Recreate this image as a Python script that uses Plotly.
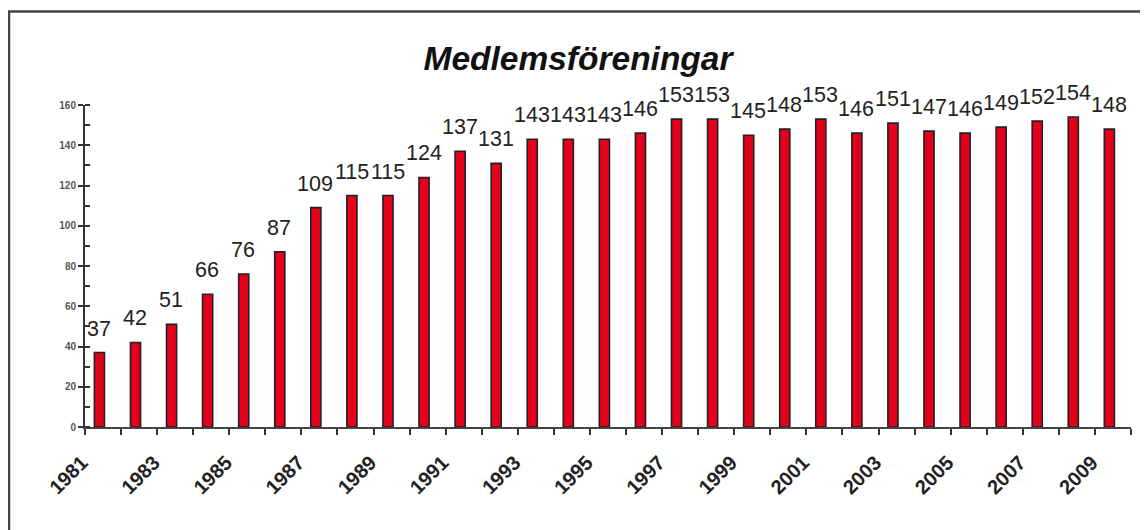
import plotly.graph_objects as go

years = [str(y) for y in range(1981, 2010)]
values = [37, 42, 51, 66, 76, 87, 109, 115, 115, 124, 137, 131, 143, 143, 143,
          146, 153, 153, 145, 148, 153, 146, 151, 147, 146, 149, 152, 154, 148]
tick_text = [y if int(y) % 2 == 1 else "" for y in years]
title_text = "Medlemsföreningar"

FONT = "Arial, 'Liberation Sans', sans-serif"

# the page body has an 8px margin; figure is sized to fit the window
W, H = 1140, 522
L, R, T, B = 77, 17, 97, 103
PW = W - L - R
PH = H - T - B

fig = go.Figure()
fig.add_trace(go.Bar(
    x=years, y=values,
    width=0.28, offset=-0.24,
    marker=dict(color="#e3001b", line=dict(color="#222222", width=1.6)),
    hoverinfo="x+y",
))

annotations = []
for i, v in enumerate(values):
    annotations.append(dict(
        x=i, y=v, xref="x", yref="y", text=str(v), showarrow=False,
        yanchor="bottom", xanchor="center", yshift=10, xshift=-4,
        font=dict(family=FONT, size=21.5, color="#222222"),
    ))

fig.update_layout(
    width=W, height=H,
    margin=dict(l=L, r=R, t=T, b=B),
    paper_bgcolor="white", plot_bgcolor="white",
    showlegend=False,
    title=dict(
        text="<b><i>" + title_text + "</i></b>",
        x=0.5, xanchor="center", xref="container",
        y=1 - 50 / H, yanchor="middle", yref="container",
        font=dict(family=FONT, size=33.5, color="#111111"),
    ),
    annotations=annotations,
    shapes=[dict(
        type="rect", xref="paper", yref="paper",
        x0=(1 - L) / PW, x1=1.2, y0=-0.6, y1=(T + PH - 3.5) / PH,
        line=dict(color="#444444", width=2.5), fillcolor="rgba(0,0,0,0)",
        layer="below",
    )],
    xaxis=dict(
        type="category",
        tickmode="array", tickvals=years, ticktext=tick_text,
        tickson="boundaries",
        ticks="outside", ticklen=6, tickwidth=2, tickcolor="#333333",
        showline=True, linecolor="#444444", linewidth=2,
        tickangle=-45, ticklabelstandoff=14, ticklabelshift=-21,
        tickfont=dict(family=FONT, size=20, color="#222222", weight="bold"),
        showgrid=False, zeroline=False,
        range=[-0.5, 28.5],
    ),
    yaxis=dict(
        range=[0, 160], tickmode="linear", tick0=0, dtick=20,
        ticks="outside", ticklen=5, tickwidth=2, tickcolor="#333333",
        minor=dict(dtick=10, ticks="inside", ticklen=5, tickwidth=1.5, tickcolor="#333333", showgrid=False),
        showline=True, linecolor="#333333", linewidth=2,
        tickfont=dict(family=FONT, size=10, color="#555555", weight="bold"),
        showgrid=False, zeroline=False,
    ),
)

fig.write_html("out.html")
